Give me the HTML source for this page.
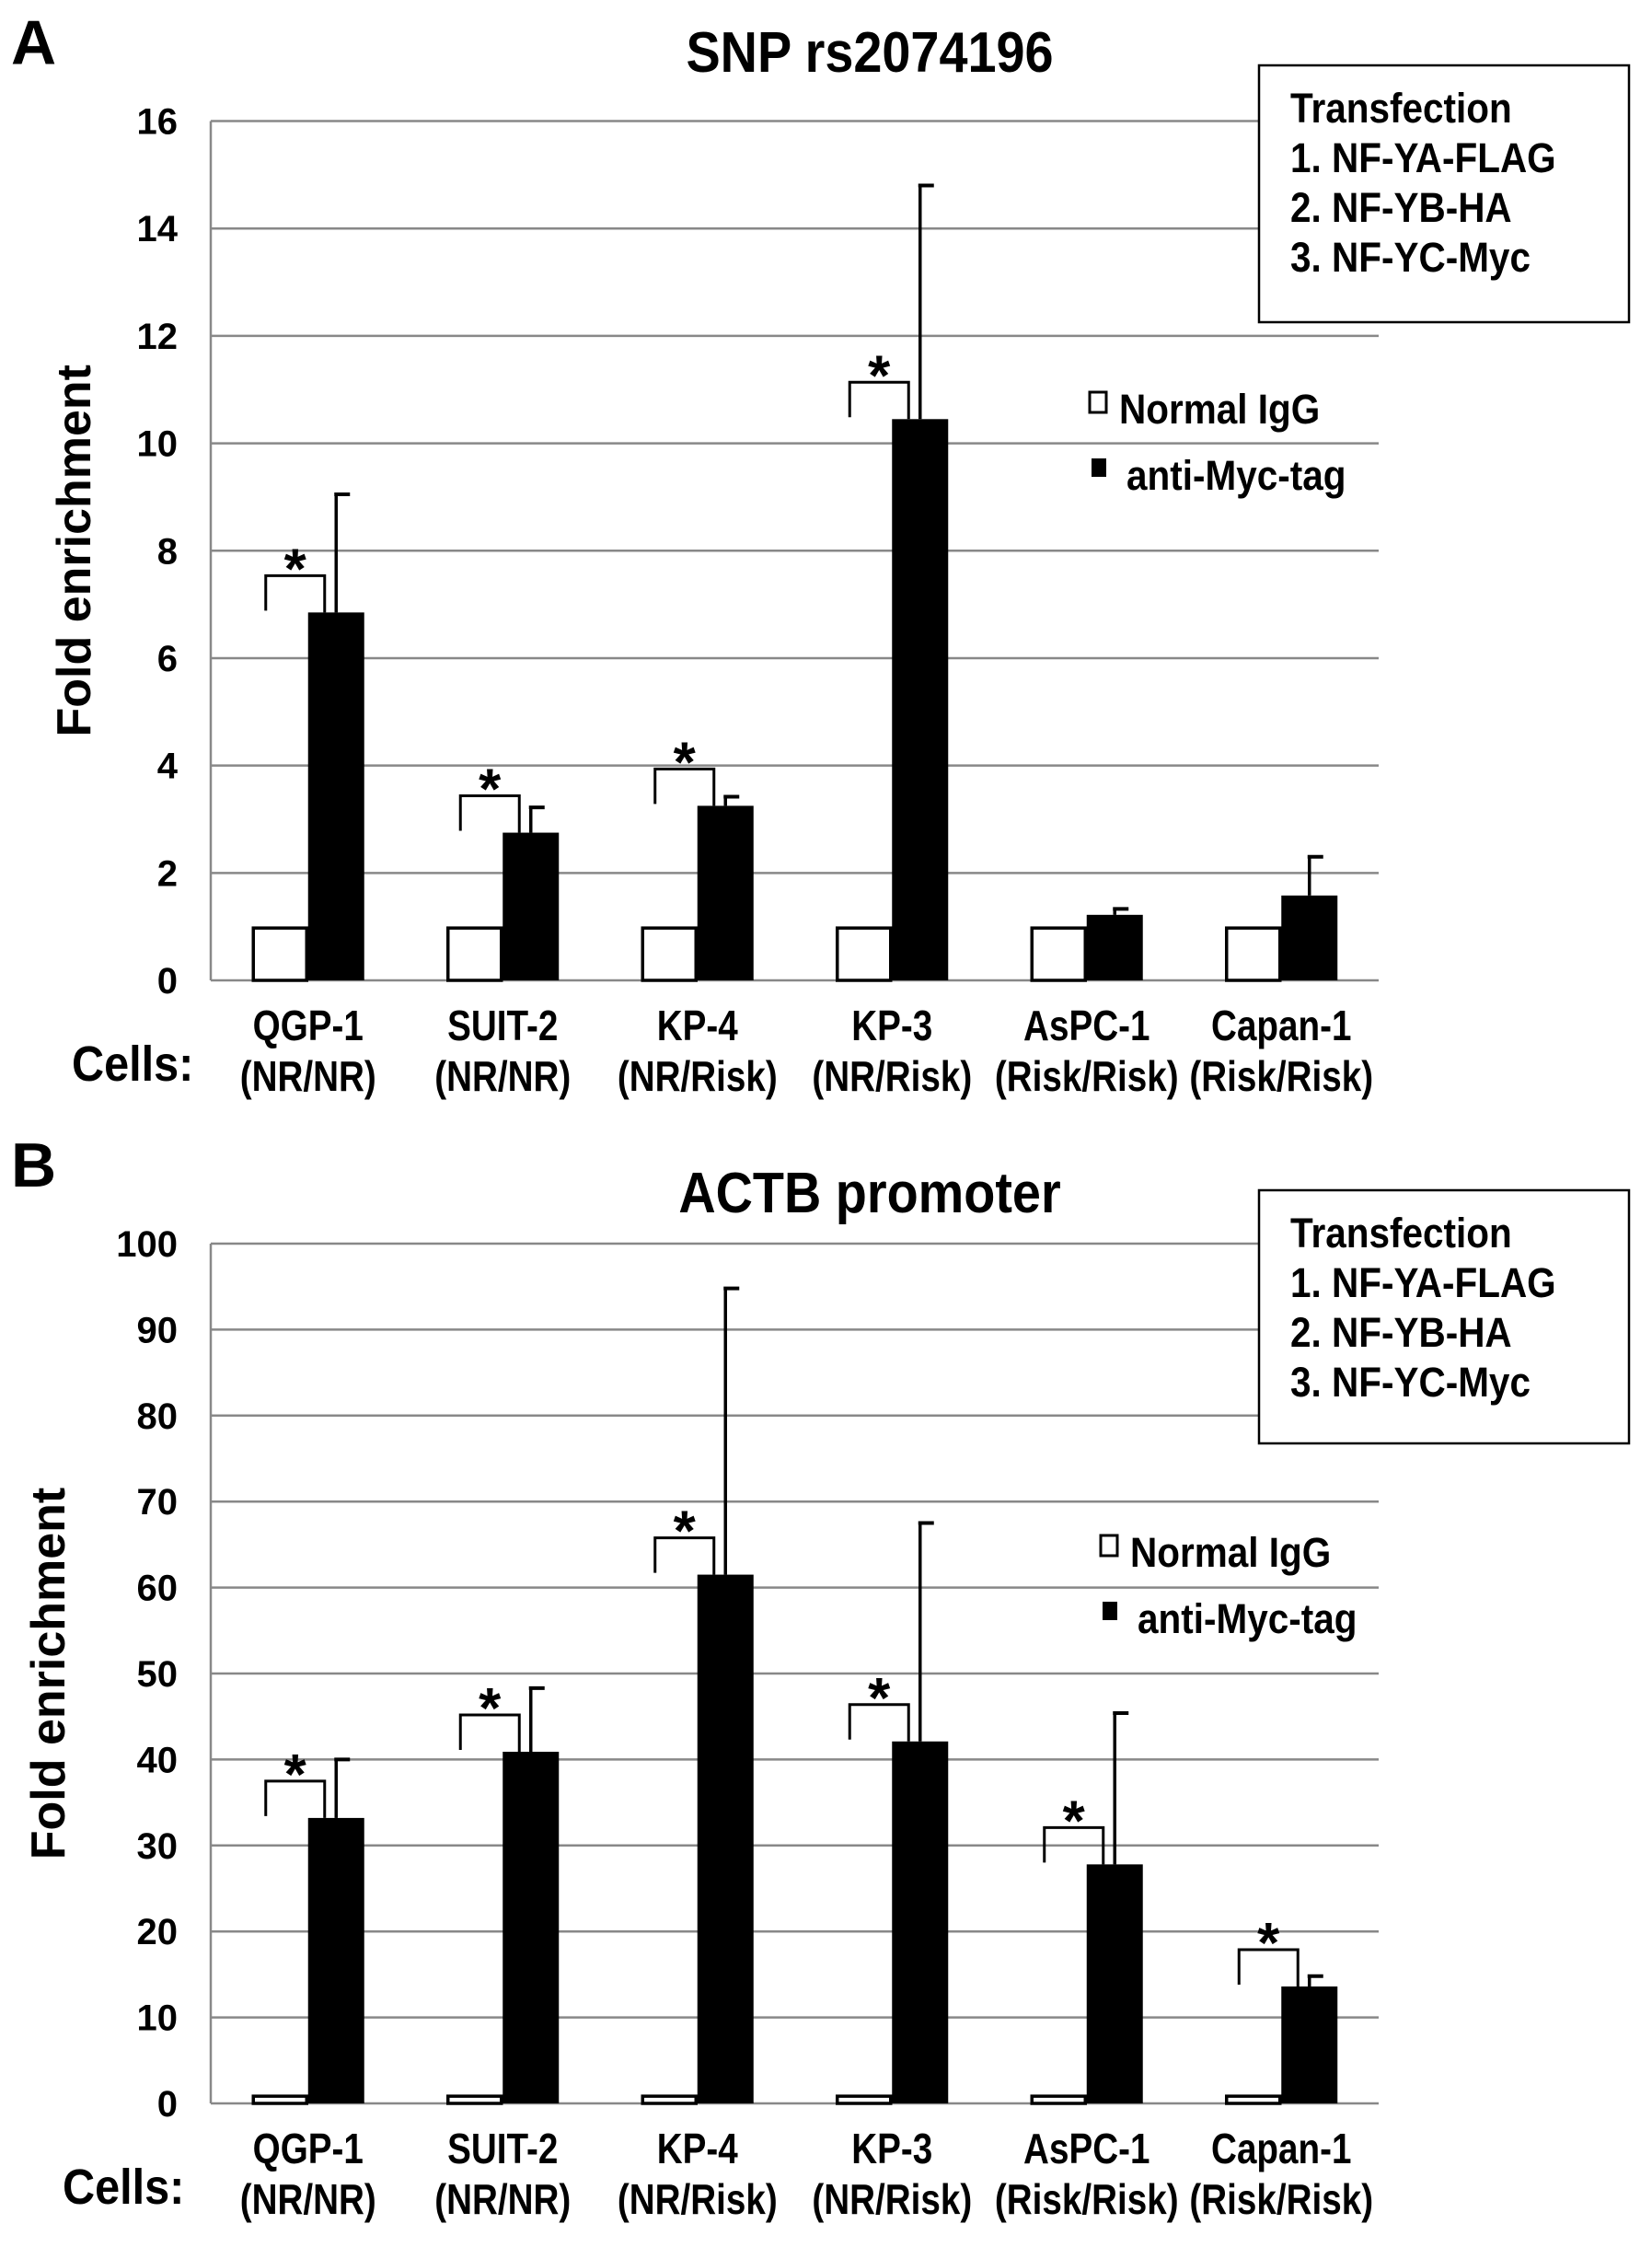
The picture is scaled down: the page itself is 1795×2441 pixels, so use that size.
<!DOCTYPE html>
<html><head><meta charset="utf-8"><style>
html,body{margin:0;padding:0;background:#fff;}
svg{display:block;font-family:"Liberation Sans",Arial,sans-serif;font-weight:bold;}
</style></head><body>
<svg id="fig" width="1795" height="2441" viewBox="0 0 1795 2441" xmlns="http://www.w3.org/2000/svg"></svg>
<script>
const categories = ["QGP-1","SUIT-2","KP-4","KP-3","AsPC-1","Capan-1"];
const genotypes = ["(NR/NR)","(NR/NR)","(NR/Risk)","(NR/Risk)","(Risk/Risk)","(Risk/Risk)"];
const aNormal = [1,1,1,1,1,1];
const aMyc = [6.85,2.75,3.25,10.45,1.22,1.58];
const aErrTop = [9.05,3.22,3.42,14.8,1.33,2.3];
const aSig = [true,true,true,true,false,false];
const aTicks = [0,2,4,6,8,10,12,14,16];
const bNormal = [1,1,1,1,1,1];
const bMyc = [33.2,40.9,61.5,42.1,27.8,13.6];
const bErrTop = [40,48.3,94.8,67.5,45.4,14.8];
const bSig = [true,true,true,true,true,true];
const bTicks = [0,10,20,30,40,50,60,70,80,90,100];
const legendLines = ["Transfection","1. NF-YA-FLAG","2. NF-YB-HA","3. NF-YC-Myc"];

const NS="http://www.w3.org/2000/svg";
const svg=document.getElementById('fig');
function mk(tag,attrs,parent,text){
  const e=document.createElementNS(NS,tag);
  for(const k in attrs)e.setAttribute(k,attrs[k]);
  if(text!==undefined)e.textContent=text;
  (parent||svg).appendChild(e);return e;
}
function chart(o){
  const g=mk('g',{});
  
  
  const x0=229,x1=1498,ymax=o.ticks[o.ticks.length-1];
  const y=v=>o.y0-(v/ymax)*(o.y0-o.yTop);
  const gw=(x1-x0)/categories.length;
  const cx=i=>x0+gw*(i+0.5);
  const bw=61;
  let t=mk('text',{x:12,y:o.y0-(o.y0-o.yTop)-62,'font-size':68,fill:'#000'},g,o.letter);
  
  t=mk('text',{x:0,y:0,'font-size':62,'text-anchor':'middle',transform:`translate(945,${o.titleY}) scale(0.9,1)`},g,o.title);
  
  o.ticks.forEach(v=>{
    const l=mk('line',{x1:x0,x2:x1,y1:y(v),y2:y(v),stroke:'#888','stroke-width':2.5},g);
    
    const tt=mk('text',{x:193,y:y(v)+14,'font-size':40,'text-anchor':'end'},g,String(v));
    
  });
  const ax=mk('line',{x1:x0,x2:x0,y1:o.yTop,y2:o.y0,stroke:'#888','stroke-width':2.5},g);
  
  t=mk('text',{x:0,y:0,'font-size':52,'text-anchor':'middle',transform:`translate(${o.yTitleX},${(o.y0+o.yTop)/2}) rotate(-90)`},g,'Fold enrichment');
  
  const lb=mk('rect',{x:1368,y:o.boxY,width:402,height:o.boxH,fill:'#fff',stroke:'#000','stroke-width':2.5},g);
  
  legendLines.forEach((s,i)=>{
    const lt=mk('text',{x:0,y:0,'font-size':45,transform:`translate(1402,${o.boxY+62+i*54}) scale(0.9,1)`},g,s);
    
  });
  let r=mk('rect',{x:o.legX,y:o.legY-32,width:18,height:22,fill:'#fff',stroke:'#000','stroke-width':3},g);
  
  t=mk('text',{x:0,y:0,'font-size':45,transform:`translate(${o.legX+32},${o.legY+2}) scale(0.9,1)`},g,'Normal IgG');
  
  r=mk('rect',{x:o.legX+2,y:o.legY+40,width:16,height:20,fill:'#000'},g);
  
  t=mk('text',{x:0,y:0,'font-size':45,transform:`translate(${o.legX+40},${o.legY+74}) scale(0.9,1)`},g,'anti-Myc-tag');
  
  categories.forEach((c,i)=>{
    const c0=cx(i);
    const w=mk('rect',{x:c0-bw+1.5,y:y(o.normal[i])+1.5,width:bw-3,height:o.y0-y(o.normal[i])-1.5,fill:'#fff',stroke:'#000','stroke-width':3.5},g);
    
    const yb=y(o.myc[i]);
    const eb=mk('line',{x1:c0+bw/2,x2:c0+bw/2,y1:yb,y2:y(o.err[i]),stroke:'#000','stroke-width':3.5},g);
    
    const cap=mk('line',{x1:c0+bw/2-2,x2:c0+bw/2+15,y1:y(o.err[i]),y2:y(o.err[i]),stroke:'#000','stroke-width':4},g);
    
    const b=mk('rect',{x:c0,y:yb,width:bw,height:o.y0-yb,fill:'#000'},g);
    
    if(o.sig[i]){
      const top=yb-40;
      const br=mk('path',{d:`M${c0-46},${top+38} L${c0-46},${top} L${c0+18},${top} L${c0+18},${yb}`,fill:'none',stroke:'#000','stroke-width':3},g);
      
      const st=mk('text',{x:c0-14,y:top+14,'font-size':62,'text-anchor':'middle'},g,'*');
      
    }
    const l1=mk('text',{x:0,y:0,'font-size':46,'text-anchor':'middle',transform:`translate(${c0},${o.catY}) scale(0.84,1)`},g,c);
    
    const l2=mk('text',{x:0,y:0,'font-size':46,'text-anchor':'middle',transform:`translate(${c0},${o.catY+55}) scale(0.84,1)`},g,genotypes[i]);
    
  });
  t=mk('text',{x:0,y:0,'font-size':54,transform:`translate(${o.cellsX},${o.catY+44}) scale(0.9,1)`},g,'Cells:');
  
}
chart({name:'chart-snp-rs2074196',letter:'A',title:'SNP rs2074196',titleY:78,y0:1065,yTop:131.5,ticks:aTicks,
  normal:aNormal,myc:aMyc,err:aErrTop,sig:aSig,yTitleX:98,boxY:71,boxH:279,legX:1184,legY:458,catY:1130,cellsX:78});
chart({name:'chart-actb-promoter',letter:'B',title:'ACTB promoter',titleY:1317,y0:2285,yTop:1351,ticks:bTicks,
  normal:bNormal,myc:bMyc,err:bErrTop,sig:bSig,yTitleX:70,boxY:1293,boxH:275,legX:1196,legY:1700,catY:2350,cellsX:68});
</script>
</body></html>
